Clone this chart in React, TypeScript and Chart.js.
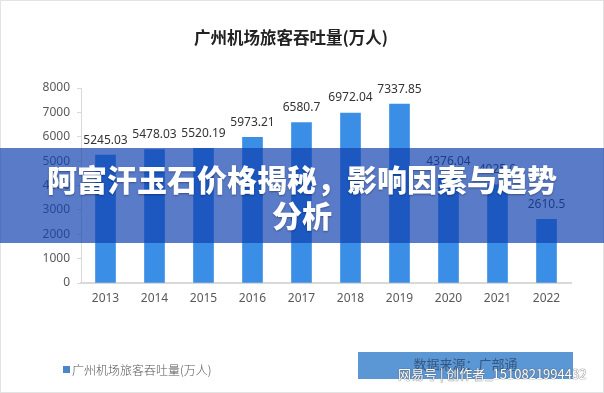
import React, { useEffect, useRef } from "react";
import { Chart, registerables } from "chart.js";

Chart.register(...registerables);

const chartTitle = "广州机场旅客吞吐量(万人)";
const seriesName = "广州机场旅客吞吐量(万人)";
const years = ["2013", "2014", "2015", "2016", "2017", "2018", "2019", "2020", "2021", "2022"];
const passengers = [5245.03, 5478.03, 5520.19, 5973.21, 6580.7, 6972.04, 7337.85, 4376.04, 4025.0, 2610.5];
const valueLabels = ["5245.03", "5478.03", "5520.19", "5973.21", "6580.7", "6972.04", "7337.85", "4376.04", "4025.0", "2610.5"];
const yMin = 0;
const yMax = 8000;
const yStep = 1000;
const bannerLines = ["阿富汗玉石价格揭秘，影响因素与趋势", "分析"];
const sourceText = "数据来源：广部通";
const watermarkText = "网易号 | 创作者_1510821994432";

const BAR_COLOR = "#3a8ee6";
const AXIS_COLOR = "#d9d9d9";
const NUM_FONT = "'Noto Sans', 'Open Sans', sans-serif";
const CJK_FONT = "'Noto Sans CJK SC', 'Noto Sans', sans-serif";

const valueLabelPlugin = {
  id: "valueLabels",
  afterDatasetsDraw(chart: any) {
    const ctx = chart.ctx;
    const meta = chart.getDatasetMeta(0);
    ctx.save();
    ctx.font = `12px ${NUM_FONT}`;
    ctx.fillStyle = "#333333";
    ctx.textAlign = "center";
    ctx.textBaseline = "middle";
    meta.data.forEach((bar: any, i: number) => {
      ctx.fillText(valueLabels[i], bar.x, bar.y - 15);
    });
    ctx.restore();
  },
};

export default function App() {
  const canvasRef = useRef<HTMLCanvasElement | null>(null);

  useEffect(() => {
    document.body.style.margin = "0";
    const canvas = canvasRef.current;
    if (!canvas) return;
    const chart = new Chart(canvas, {
      type: "bar",
      data: {
        labels: years,
        datasets: [
          {
            label: seriesName,
            data: passengers,
            backgroundColor: BAR_COLOR,
            barThickness: 20,
          },
        ],
      },
      options: {
        animation: false,
        responsive: false,
        maintainAspectRatio: false,
        layout: { padding: { left: 36, right: 33, top: 88, bottom: 80 } },
        plugins: {
          legend: { display: false },
          title: { display: false },
          tooltip: { enabled: false },
        },
        scales: {
          x: {
            grid: { display: false, drawTicks: false },
            border: { display: true, color: AXIS_COLOR, width: 2 },
            ticks: {
              color: "#595959",
              padding: 8,
              font: { size: 12, family: NUM_FONT },
            },
            afterFit: (scale: any) => {
              scale.height = 30;
            },
          },
          y: {
            min: yMin,
            max: yMax,
            grid: {
              display: true,
              drawOnChartArea: false,
              drawTicks: true,
              tickLength: 4,
              color: AXIS_COLOR,
            },
            border: { display: true, color: AXIS_COLOR, width: 1 },
            ticks: {
              stepSize: yStep,
              color: "#595959",
              padding: 7,
              font: { size: 12, family: NUM_FONT },
              callback: (v: any) => String(v),
            },
            afterFit: (scale: any) => {
              scale.width = 45;
            },
          },
        },
      },
      plugins: [valueLabelPlugin],
    });
    return () => chart.destroy();
  }, []);

  return (
    <div
      style={{
        position: "relative",
        width: 604,
        height: 393,
        background: "#ffffff",
        overflow: "hidden",
        fontFamily: CJK_FONT,
      }}
    >
      <canvas ref={canvasRef} width={604} height={393} style={{ position: "absolute", left: 0, top: 0 }} />
      <div
        style={{
          position: "absolute",
          left: 0,
          top: 0,
          width: 604,
          height: 393,
          boxSizing: "border-box",
          border: "1px solid #e3e3e3",
          pointerEvents: "none",
        }}
      />
      <div
        style={{
          position: "absolute",
          left: 181,
          width: 220,
          top: 26,
          textAlign: "center",
          fontSize: 16.5,
          fontWeight: 700,
          color: "#222222",
          lineHeight: "22px",
          whiteSpace: "nowrap",
        }}
      >
        {chartTitle}
      </div>
      <div
        style={{
          position: "absolute",
          left: 63,
          top: 366,
          width: 7,
          height: 7,
          background: "#4a86c8",
        }}
      />
      <div
        style={{
          position: "absolute",
          left: 72,
          top: 361,
          fontSize: 12,
          color: "#555555",
          lineHeight: "17px",
          whiteSpace: "nowrap",
          fontWeight: 300,
        }}
      >
        {seriesName}
      </div>
      <div
        style={{
          position: "absolute",
          left: 358,
          top: 352,
          width: 215,
          height: 27,
          background: "#5b97d5",
        }}
      />
      <div
        style={{
          position: "absolute",
          left: 358,
          width: 215,
          top: 355,
          textAlign: "center",
          fontSize: 13,
          color: "rgba(40,60,90,0.7)",
          lineHeight: "18px",
          whiteSpace: "nowrap",
        }}
      >
        {sourceText}
      </div>
      <div
        style={{
          position: "absolute",
          left: 398,
          top: 365,
          fontSize: 13,
          letterSpacing: 0,
          color: "#ffffff",
          lineHeight: "18px",
          whiteSpace: "nowrap",
          textShadow: "0 0 1px #555, 0 0 1px #555",
        }}
      >
        {watermarkText}
      </div>
      <div
        style={{
          position: "absolute",
          left: 0,
          top: 148,
          width: 604,
          height: 95,
          background: "rgba(14,64,175,0.69)",
          display: "flex",
          flexDirection: "column",
          alignItems: "center",
          justifyContent: "center",
        }}
      >
        {bannerLines.map((line, i) => (
          <div
            key={i}
            style={{
              color: "#ffffff",
              fontSize: 30,
              fontWeight: 900,
              lineHeight: "36px",
              whiteSpace: "nowrap",
              textShadow: "0 1px 2px rgba(0,0,0,0.35)",
            }}
          >
            {line}
          </div>
        ))}
      </div>
    </div>
  );
}
